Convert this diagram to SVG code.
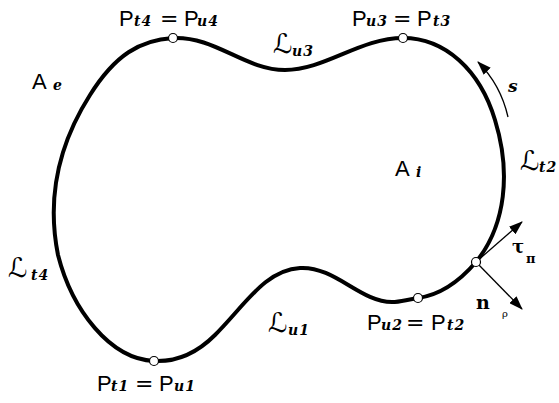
<svg xmlns="http://www.w3.org/2000/svg" width="559" height="403" viewBox="0 0 559 403">
<defs>
<marker id="ah" viewBox="0 0 14 10" refX="13" refY="5" markerWidth="14" markerHeight="10" markerUnits="userSpaceOnUse" orient="auto">
<path d="M0,0 L14,5 L0,10 Z" fill="#000"/>
</marker>
</defs>
<style>
.curve{fill:none;stroke:#000;stroke-width:4;stroke-linejoin:round}
.pt{fill:#fff;stroke:#000;stroke-width:1.2}
.vec{fill:none;stroke:#000;stroke-width:1.3;marker-end:url(#ah)}
.m{font-family:"Liberation Sans","DejaVu Sans",sans-serif;font-size:22px;fill:#000}
.sb{font-family:"DejaVu Serif","Liberation Serif",serif;font-size:14px;font-weight:bold;font-style:italic;letter-spacing:1px;fill:#000}
.eq{font-family:"DejaVu Sans",sans-serif;font-size:22px;fill:#000}
.L{font-family:"DejaVu Serif","DejaVu Sans",serif;font-size:27px;fill:#000}
.g{font-family:"DejaVu Serif",serif;font-size:15px;font-weight:bold;fill:#000}
</style>
<g id="connectors">
<path id="boundary" class="curve" d="M173,38 C215,36 245,70 285,70 C325,70 360,38 403,38 C445,38 480,70 495,120 C511,172 506,225 476,262 C458,283 440,295 418,298 C405,300 400,302 392,302 C360,302 335,266 300,268 C265,270 245,305 215,335 C195,355 175,362 154,361 C110,359 72,310 58,255 C48,205 55,150 90,95 C115,55 140,40 173,38 Z"/>
<path id="s-arrow" class="vec" d="M508,117 C503,95 493,77 478,62"/>
<line id="tau" class="vec" x1="476" y1="262" x2="522" y2="222"/>
<line id="n" class="vec" x1="476" y1="262" x2="522" y2="309"/>
</g>
<g id="Pt4"><circle class="pt" cx="173" cy="38" r="4.5"/>
<text class="m" x="119" y="26">P</text><text class="sb" x="134" y="26">t4</text><text class="eq" x="160" y="26">=</text><text class="m" x="184" y="26">P</text><text class="sb" x="197" y="26">u4</text></g>
<g id="Pu3"><circle class="pt" cx="403" cy="38" r="4.5"/>
<text class="m" x="352" y="26">P</text><text class="sb" x="366" y="26">u3</text><text class="eq" x="393" y="26">=</text><text class="m" x="417" y="26">P</text><text class="sb" x="433" y="26">t3</text></g>
<g id="Pu2"><circle class="pt" cx="418" cy="298" r="4.5"/>
<text class="m" x="367" y="330">P</text><text class="sb" x="381" y="330">u2</text><text class="eq" x="406" y="330">=</text><text class="m" x="431" y="330">P</text><text class="sb" x="447" y="330">t2</text></g>
<g id="Pt1"><circle class="pt" cx="154" cy="361" r="4.5"/>
<text class="m" x="97" y="391">P</text><text class="sb" x="111" y="391">t1</text><text class="eq" x="135" y="391">=</text><text class="m" x="159" y="391">P</text><text class="sb" x="174" y="391">u1</text></g>
<g id="P5"><circle class="pt" cx="476" cy="262" r="4.5"/></g>
<g id="Ae"><text class="m" x="32" y="89">A</text><text class="sb" x="53" y="90">e</text></g>
<g id="Ai"><text class="m" x="395" y="176">A</text><text class="sb" x="416" y="177">i</text></g>
<g id="Lt2"><text class="L" x="520" y="170">ℒ</text><text class="sb" x="539" y="172">t2</text></g>
<g id="Lu3"><text class="L" x="273" y="53">ℒ</text><text class="sb" x="292" y="56">u3</text></g>
<g id="Lt4"><text class="L" x="8" y="277">ℒ</text><text class="sb" x="31" y="280">t4</text></g>
<g id="Lu1"><text class="L" x="268" y="332">ℒ</text><text class="sb" x="288" y="335">u1</text></g>
<g id="s"><text class="sb" x="508" y="92" style="font-size:17px">s</text></g>
<g id="taupi"><text class="g" x="512" y="253" style="font-size:18px">τ</text><text class="g" x="526" y="263" style="font-size:13px">π</text></g>
<g id="nrho"><text class="g" x="476" y="309" style="font-size:19px">n</text><text class="g" x="502" y="317" style="font-size:10px;font-weight:normal">ρ</text></g>
</svg>
